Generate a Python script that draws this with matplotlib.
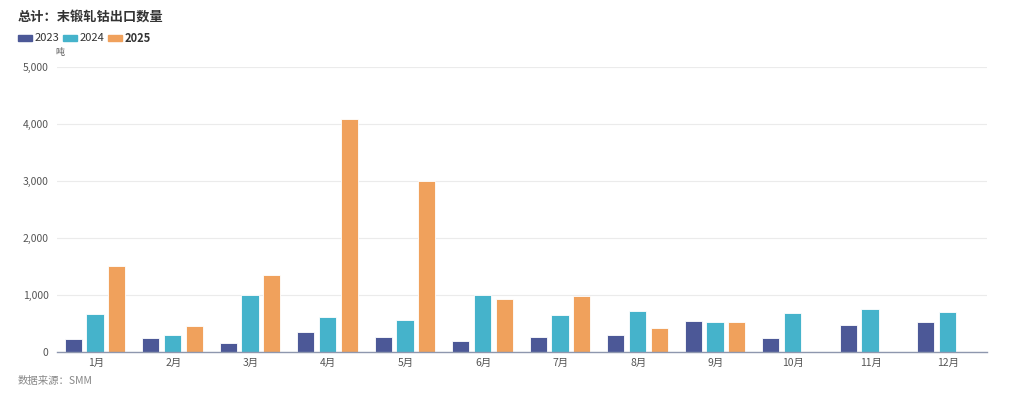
import matplotlib
matplotlib.use("Agg")
import matplotlib.pyplot as plt
import numpy as np
from matplotlib.patches import Rectangle

plt.rcParams['font.family'] = ['Noto Sans CJK SC', 'DejaVu Sans']

months = ['1月', '2月', '3月', '4月', '5月', '6月', '7月', '8月', '9月', '10月', '11月', '12月']
v2023 = [225, 250, 152, 357, 268, 185, 255, 290, 542, 245, 478, 518]
v2024 = [660, 292, 995, 620, 560, 995, 653, 717, 518, 682, 763, 693]
v2025 = [1509, 450, 1357, 4095, 2992, 933, 980, 413, 530, None, None, None]
series_names = ['2023', '2024', '2025']
colors = ['#4C5897', '#45B3CB', '#F0A15C']

fig = plt.figure(figsize=(10.24, 3.99), dpi=100)
ax = fig.add_axes([57/1024, 1-352/399, (987-57)/1024, (352-67)/399])

x = np.arange(len(months))
w = 0.22
offs = [-0.29, -0.01, 0.27]
for vals, c, o in zip([v2023, v2024, v2025], colors, offs):
    xs = [xi + o for xi, v in zip(x, vals) if v is not None]
    ys = [v for v in vals if v is not None]
    ax.bar(xs, ys, width=w, color=c, edgecolor='white', linewidth=0.6, zorder=3)

ax.set_xlim(-0.5, len(months) - 0.5)
ax.set_ylim(0, 5000)
ax.set_yticks([0, 1000, 2000, 3000, 4000, 5000])
ax.set_yticklabels(['0', '1,000', '2,000', '3,000', '4,000', '5,000'])
ax.set_xticks(x)
ax.set_xticklabels(months)
ax.tick_params(axis='both', length=0, labelsize=7.5, colors='#555555')
ax.tick_params(axis='y', pad=6)
ax.tick_params(axis='x', pad=4)
ax.grid(axis='y', color='#ebebeb', linewidth=0.8, zorder=0)
for s in ['top', 'right', 'left']:
    ax.spines[s].set_visible(False)
ax.spines['bottom'].set_color('#8E97AE')
ax.spines['bottom'].set_linewidth(1.0)
ax.spines['bottom'].set_zorder(4)

fig.text(18/1024, 1-18/399, '总计：末锻轧钴出口数量', fontsize=9.5, fontweight='bold',
         color='#333333', va='center', ha='left')

# legend
lx = 18
for name, c in zip(series_names, colors):
    fig.patches.append(Rectangle((lx/1024, 1-41/399), 14/1024, 6/399,
                                 transform=fig.transFigure, color=c, figure=fig))
    fig.text((lx + 17)/1024, 1-38/399, name, fontsize=8,
             fontweight='bold' if name == '2025' else 'normal',
             color='#333333', va='center', ha='left')
    lx += 45

fig.text(55/1024, 1-52/399, '吨', fontsize=6.5, color='#555555', va='center', ha='left')
fig.text(18/1024, 1-381/399, '数据来源：SMM', fontsize=7.5, style='italic',
         color='#888888', va='center', ha='left')

fig.savefig('out.png', dpi=100)
